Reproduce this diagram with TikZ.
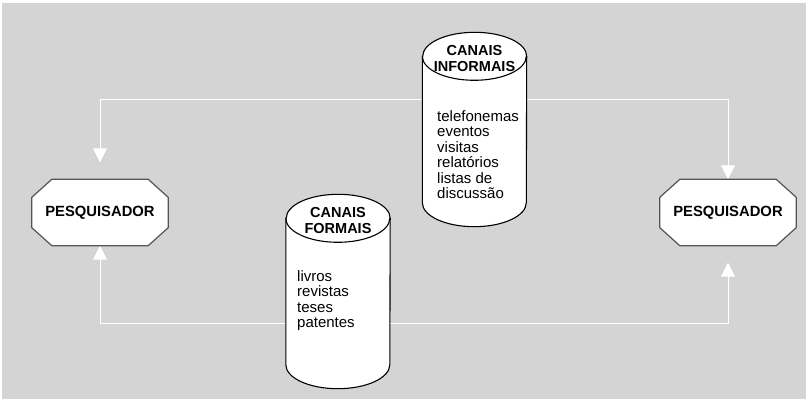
\documentclass[tikz,border=0pt]{standalone}
\usepackage{fontspec}
\setmainfont{Liberation Sans}
\usetikzlibrary{arrows.meta}
\definecolor{fundo}{RGB}{212,212,212}
\definecolor{borda}{RGB}{85,85,85}
\pgfdeclarelayer{back}
\pgfdeclarelayer{mid}
\pgfsetlayers{back,mid,main}
\tikzset{
  pesq/.style={minimum width=136pt, minimum height=66pt, inner sep=0pt,
    font=\fontsize{14.8}{16}\selectfont\bfseries},
  octo/.style={draw=borda, line width=1.2pt, fill=white},
  corpo/.style={minimum width=104pt, minimum height=146pt, inner sep=0pt},
  tampa/.style={align=center, inner sep=0pt, font=\fontsize{14.5}{15.5}\selectfont\bfseries},
  lista/.style={align=left, inner sep=0pt, font=\fontsize{15}{15.5}\selectfont},
  cil/.style={draw=black, line width=1.1pt, fill=white},
  liga/.style={white, line width=1pt,
    {Triangle[width=14pt,length=14pt]}-{Triangle[width=14pt,length=14pt]}}
}
\begin{document}
\begin{tikzpicture}[x=1pt,y=1pt]
\useasboundingbox (0,0) rectangle (809,-403);
\begin{pgfonlayer}{back}
\fill[fundo] (2,-3) rectangle (806,-399);
\end{pgfonlayer}
% pesquisadores
\node[pesq] (pesqA) at (100,-212.5) {PESQUISADOR};
\node[pesq] (pesqB) at (728,-212.5) {PESQUISADOR};
% canais
\node[corpo] (informais) at (474.5,-129.5) {};
\node[corpo] (formais) at (338,-291.5) {};
\node[tampa] (informaisT) at ([yshift=-2pt]informais.north) {CANAIS\\INFORMAIS};
\node[tampa] (formaisT) at ([yshift=-2pt]formais.north) {CANAIS\\FORMAIS};
\node[lista, anchor=north west] (informaisL) at (437,-110) {telefonemas\\eventos\\visitas\\relatórios\\listas de\\discussão};
\node[lista, anchor=north west] (formaisL) at (297,-270) {livros\\revistas\\teses\\patentes};
\begin{pgfonlayer}{mid}
\coordinate (cima) at (0,-100);
\coordinate (baixo) at (0,-324);
\draw[liga] ([yshift=17pt]pesqA.north) |- (cima -| pesqB.north) -- (pesqB.north);
\draw[liga] (pesqA.south) |- (baixo -| pesqB.south) -- ([yshift=-17pt]pesqB.south);
% octogonos
\draw[octo] ([xshift=20pt]pesqA.north west) -- ([xshift=-20pt]pesqA.north east) -- ([yshift=-18pt]pesqA.north east) -- ([yshift=18pt]pesqA.south east) -- ([xshift=-20pt]pesqA.south east) -- ([xshift=20pt]pesqA.south west) -- ([yshift=18pt]pesqA.south west) -- ([yshift=-18pt]pesqA.north west) -- cycle;
\draw[octo] ([xshift=20pt]pesqB.north west) -- ([xshift=-20pt]pesqB.north east) -- ([yshift=-18pt]pesqB.north east) -- ([yshift=18pt]pesqB.south east) -- ([xshift=-20pt]pesqB.south east) -- ([xshift=20pt]pesqB.south west) -- ([yshift=18pt]pesqB.south west) -- ([yshift=-18pt]pesqB.north west) -- cycle;
% cilindros
\draw[cil] (informais.north west) -- (informais.south west) arc[start angle=180, end angle=360, x radius=52pt, y radius=24pt] -- (informais.north east) arc[start angle=0, end angle=180, x radius=52pt, y radius=24pt] -- cycle;
\draw[cil, fill=none] (informais.north west) arc[start angle=180, end angle=360, x radius=52pt, y radius=24pt];
\draw[cil] (formais.north west) -- (formais.south west) arc[start angle=180, end angle=360, x radius=52pt, y radius=24pt] -- (formais.north east) arc[start angle=0, end angle=180, x radius=52pt, y radius=24pt] -- cycle;
\draw[cil, fill=none] (formais.north west) arc[start angle=180, end angle=360, x radius=52pt, y radius=24pt];
\end{pgfonlayer}
\end{tikzpicture}
\end{document}
